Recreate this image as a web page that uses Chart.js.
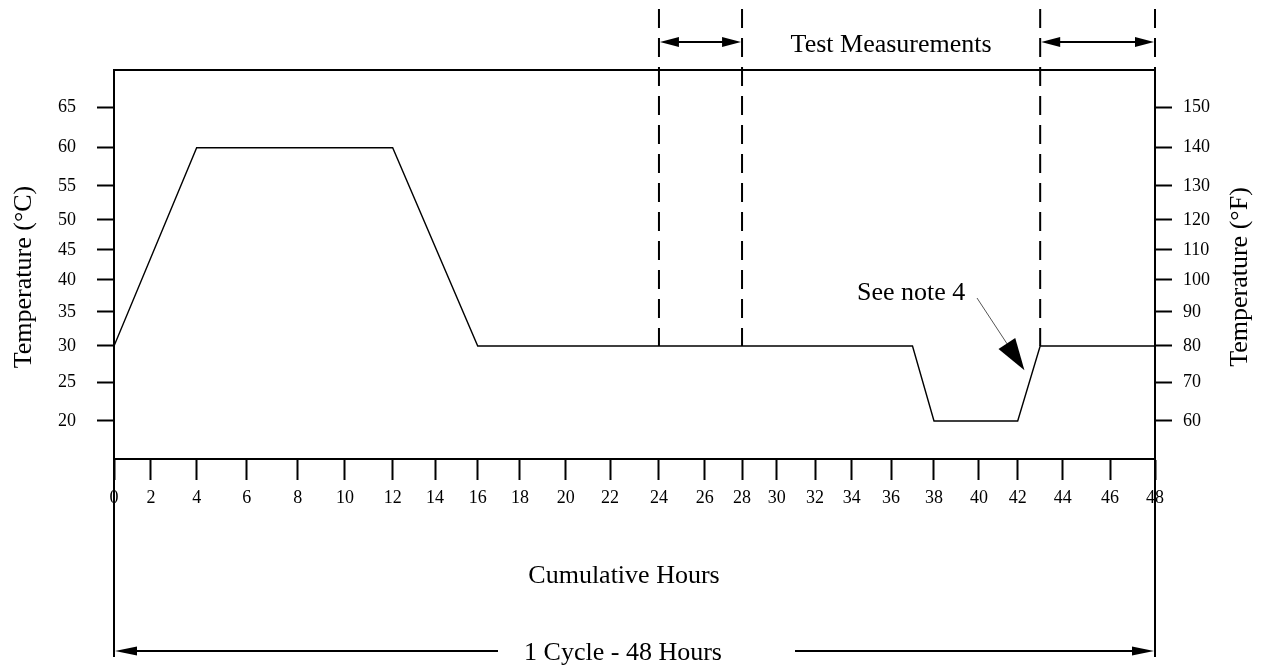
<!DOCTYPE html>
<html>
<head>
<meta charset="utf-8">
<script src="https://cdn.jsdelivr.net/npm/chart.js@4/dist/chart.umd.min.js"></script>
<style>
  html, body { margin: 0; padding: 0; background: #fff; }
  #wrap { width: 1264px; height: 667px; }
</style>
</head>
<body>
<div id="wrap"><canvas id="chart-cycle"></canvas></div>
<script>
// temperature profile over one 48 h cycle
const hours = [0, 4, 12, 16, 37, 38, 42, 43, 48];
const tempC = [30, 60, 60, 30, 30, 20, 20, 30, 30];

const hourTicks = [0, 2, 4, 6, 8, 10, 12, 14, 16, 18, 20, 22, 24, 26, 28, 30, 32, 34, 36, 38, 40, 42, 44, 46, 48];
const tempTicksC = [20, 25, 30, 35, 40, 45, 50, 55, 60, 65];
const tempTicksF = [60, 70, 80, 90, 100, 110, 120, 130, 140, 150];

// hours where test measurements are taken
const measureWindows = [[24, 28], [43, 48]];
const noteHour = 42.3;
const noteTemp = 26.7;

// the drawing's axes are not evenly divided; tick spots read off it,
// as a fraction of the axis length
const hourFrac = [0, .0355, .0794, .1275, .1765, .2219, .2677, .3084, .3494, .39, .4339, .4765,
  .5235, .5674, .6033, .6366, .6734, .7086, .7464, .7877, .8309, .8681, .9113, .9568, 1];
const tempFrac = [.0977, .1961, .2905, .3779, .4602, .5373, .6144, .7018, .8003, .9031];
const T_MIN = 15, T_MAX = 70;

const knots = {
  x: hourTicks.map((h, i) => [h, hourFrac[i]]),
  y: [[T_MIN, 0]].concat(tempTicksC.map((t, i) => [t, tempFrac[i]]), [[T_MAX, 1]])
};
knots.y2 = knots.y;

function interp(pts, v) {
  let i = 1;
  while (i < pts.length - 1 && v > pts[i][0]) i++;
  const [a0, b0] = pts[i - 1], [a1, b1] = pts[i];
  return b0 + (v - a0) / (a1 - a0) * (b1 - b0);
}

class WarpedScale extends Chart.LinearScale {
  getPixelForValue(value) {
    if (value === null || value === undefined) return NaN;
    return this.getPixelForDecimal(interp(knots[this.id], value));
  }
  getValueForPixel(pixel) {
    const inv = knots[this.id].map(k => [k[1], k[0]]);
    return interp(inv, this.getDecimalForPixel(pixel));
  }
}
WarpedScale.id = 'warped';
WarpedScale.defaults = Chart.LinearScale.defaults;
Chart.register(WarpedScale);

const FONT = 'Liberation Serif, Times New Roman, serif';

function line(ctx, x0, y0, x1, y1) {
  ctx.beginPath();
  ctx.moveTo(x0, y0);
  ctx.lineTo(x1, y1);
  ctx.stroke();
}
function head(ctx, x, y, ang, len, half) {
  ctx.save();
  ctx.translate(x, y);
  ctx.rotate(ang);
  ctx.beginPath();
  ctx.moveTo(0, 0);
  ctx.lineTo(-len, -half);
  ctx.lineTo(-len, half);
  ctx.closePath();
  ctx.fill();
  ctx.restore();
}
function vtext(ctx, s, x, y) {
  ctx.save();
  ctx.translate(x, y);
  ctx.rotate(-Math.PI / 2);
  ctx.textAlign = 'center';
  ctx.fillText(s, 0, 0);
  ctx.restore();
}

const overlay = {
  id: 'overlay',
  afterDraw(chart) {
    const { ctx, chartArea: a } = chart;
    const x = chart.scales.x, y = chart.scales.y;
    ctx.save();
    ctx.strokeStyle = '#000';
    ctx.fillStyle = '#000';
    ctx.lineWidth = 2;

    // frame top, and the end lines running down to the cycle arrow
    line(ctx, a.left, a.top, a.right, a.top);
    line(ctx, a.left, a.bottom, a.left, 657);
    line(ctx, a.right, a.bottom, a.right, 657);

    // measurement windows
    const yLevel = y.getPixelForValue(30);
    ctx.setLineDash([19, 10]);
    measureWindows.forEach(w => w.forEach(h => {
      const px = x.getPixelForValue(h);
      line(ctx, px, 9, px, yLevel);
    }));
    ctx.setLineDash([]);
    measureWindows.forEach(([h0, h1]) => {
      const p0 = x.getPixelForValue(h0) + 1, p1 = x.getPixelForValue(h1) - 1;
      line(ctx, p0 + 8, 42, p1 - 8, 42);
      head(ctx, p0, 42, Math.PI, 19, 5);
      head(ctx, p1, 42, 0, 19, 5);
    });

    ctx.font = '26px ' + FONT;
    ctx.textBaseline = 'alphabetic';
    ctx.textAlign = 'center';
    const mid = (x.getPixelForValue(measureWindows[0][1]) + x.getPixelForValue(measureWindows[1][0])) / 2;
    ctx.fillText('Test Measurements', mid, 52);

    // note pointer
    const tx = x.getPixelForValue(noteHour), ty = y.getPixelForValue(noteTemp);
    ctx.textAlign = 'left';
    ctx.fillText('See note 4', 857, 300);
    ctx.lineWidth = 1;
    ctx.strokeStyle = '#555';
    const ang = Math.atan2(ty - 298, tx - 977);
    line(ctx, 977, 298, tx - 28 * Math.cos(ang), ty - 28 * Math.sin(ang));
    head(ctx, tx, ty, ang, 32, 10);

    // axis titles
    ctx.textAlign = 'center';
    ctx.fillText('Cumulative Hours', 624, 583);
    ctx.fillText('1 Cycle - 48 Hours', 623, 660);
    vtext(ctx, 'Temperature (°C)', 31, 277);
    vtext(ctx, 'Temperature (°F)', 1247, 277);

    // cycle arrow
    ctx.strokeStyle = '#000';
    ctx.lineWidth = 2;
    line(ctx, a.left + 10, 651, 498, 651);
    line(ctx, 795, 651, a.right - 10, 651);
    head(ctx, a.left + 1, 651, Math.PI, 22, 4.5);
    head(ctx, a.right - 1, 651, 0, 22, 4.5);
    ctx.restore();
  }
};

const tickFont = { family: FONT, size: 18 };
const yGrid = { display: true, drawOnChartArea: false, drawTicks: true, tickLength: 17, tickWidth: 2, tickColor: '#000' };

new Chart(document.getElementById('chart-cycle'), {
  type: 'line',
  data: {
    datasets: [{
      data: hours.map((h, i) => ({ x: h, y: tempC[i] })),
      borderColor: '#000',
      borderWidth: 1.4,
      pointRadius: 0,
      tension: 0,
      fill: false
    }]
  },
  options: {
    responsive: true,
    maintainAspectRatio: false,
    animation: false,
    events: [],
    layout: { padding: { top: 70, left: 0, right: 0, bottom: 0 } },
    plugins: { legend: { display: false }, tooltip: { enabled: false } },
    scales: {
      x: {
        type: 'warped',
        position: 'bottom',
        min: 0,
        max: 48,
        afterBuildTicks: s => { s.ticks = hourTicks.map(v => ({ value: v })); },
        afterFit: s => { s.height = 208; },
        grid: { display: true, drawOnChartArea: false, drawTicks: true, tickLength: 21, tickWidth: 2, tickColor: '#000' },
        border: { display: true, color: '#000', width: 2 },
        ticks: { autoSkip: false, maxRotation: 0, padding: 7, color: '#000', font: tickFont, callback: v => v }
      },
      y: {
        type: 'warped',
        position: 'left',
        min: T_MIN,
        max: T_MAX,
        afterBuildTicks: s => { s.ticks = tempTicksC.map(v => ({ value: v })); },
        afterFit: s => { s.width = 114; },
        grid: yGrid,
        border: { display: true, color: '#000', width: 2 },
        ticks: { padding: 21, color: '#000', font: tickFont, callback: v => v }
      },
      y2: {
        type: 'warped',
        position: 'right',
        min: T_MIN,
        max: T_MAX,
        afterBuildTicks: s => { s.ticks = tempTicksC.map(v => ({ value: v })); },
        afterFit: s => { s.width = 109; },
        grid: yGrid,
        border: { display: true, color: '#000', width: 2 },
        ticks: { padding: 11, color: '#000', font: tickFont, callback: v => tempTicksF[tempTicksC.indexOf(v)] }
      }
    }
  },
  plugins: [overlay]
});
</script>
</body>
</html>
